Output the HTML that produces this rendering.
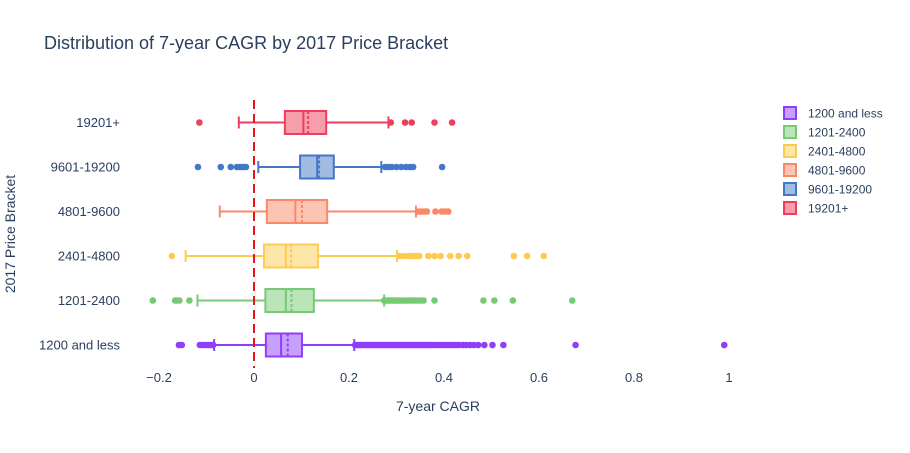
<!DOCTYPE html>
<html><head><meta charset="utf-8"><style>
body{margin:0;background:#fff;font-family:"Liberation Sans",sans-serif}
svg text{font-family:"Liberation Sans",sans-serif;fill:#2a3f5f}
</style></head><body>
<svg id="c" width="910" height="448" xmlns="http://www.w3.org/2000/svg">
<text x="44" y="49" font-size="18">Distribution of 7-year CAGR by 2017 Price Bracket</text>
<text x="438" y="411" font-size="14" text-anchor="middle">7-year CAGR</text>
<text transform="translate(15,234) rotate(-90)" font-size="14" text-anchor="middle">2017 Price Bracket</text>
<g id="plot"></g><g id="legend"></g>
</svg>
<script>
const categories=["1200 and less","1201-2400","2401-4800","4801-9600","9601-19200","19201+"];
const colors=["#8f3ff9","#77c973","#fecb52","#f98a68","#4477c6","#ef3e5c"];
const lowW=[-0.084,-0.119,-0.144,-0.072,0.009,-0.032];
const q1=[0.025,0.024,0.021,0.027,0.097,0.065];
const med=[0.057,0.067,0.067,0.087,0.133,0.104];
const mean=[0.071,0.079,0.078,0.101,0.137,0.114];
const q3=[0.101,0.126,0.135,0.154,0.168,0.152];
const highW=[0.211,0.274,0.301,0.341,0.268,0.283];
const outliers0=[-0.158,-0.152,-0.114,-0.108,-0.102,-0.096,-0.091,-0.086,0.213,0.217,0.221,0.225,0.229,0.233,0.237,0.241,0.245,0.249,0.253,0.257,0.261,0.265,0.269,0.273,0.277,0.281,0.285,0.289,0.293,0.297,0.301,0.305,0.309,0.313,0.317,0.321,0.325,0.329,0.333,0.337,0.341,0.345,0.349,0.353,0.357,0.361,0.365,0.369,0.374,0.379,0.384,0.39,0.396,0.402,0.408,0.414,0.42,0.426,0.432,0.44,0.447,0.455,0.463,0.472,0.485,0.502,0.525,0.677,0.99];
const outliers1=[-0.213,-0.166,-0.162,-0.157,-0.136,0.274,0.278,0.282,0.286,0.29,0.294,0.298,0.302,0.306,0.31,0.315,0.32,0.325,0.33,0.335,0.34,0.345,0.35,0.357,0.38,0.483,0.506,0.545,0.67];
const outliers2=[-0.173,0.306,0.315,0.325,0.33,0.335,0.342,0.348,0.367,0.38,0.393,0.413,0.431,0.449,0.547,0.575,0.61];
const outliers3=[0.345,0.35,0.355,0.36,0.364,0.382,0.395,0.402,0.409];
const outliers4=[-0.118,-0.07,-0.049,-0.036,-0.029,-0.023,-0.017,0.276,0.283,0.29,0.3,0.31,0.32,0.328,0.335,0.396];
const outliers5=[-0.115,0.288,0.318,0.332,0.38,0.417];
const outliers=[outliers0,outliers1,outliers2,outliers3,outliers4,outliers5];
const xTicks=[-0.2,0,0.2,0.4,0.6,0.8,1];
const xTickLabels=["−0.2","0","0.2","0.4","0.6","0.8","1"];
const NS="http://www.w3.org/2000/svg";
const plot=document.getElementById('plot'),leg=document.getElementById('legend');
const xs=v=>254+v*475;
const ys=i=>345-i*44.5;
function mk(tag,at,parent){const e=document.createElementNS(NS,tag);for(const k in at)e.setAttribute(k,at[k]);(parent||plot).appendChild(e);return e;}
xTicks.forEach((t,i)=>{const e=mk('text',{x:xs(t),y:382,'font-size':13,'text-anchor':'middle'});e.textContent=xTickLabels[i];

});
categories.forEach((c,i)=>{const y=ys(i),col=colors[i];
const t=mk('text',{x:120,y:y+4.5,'font-size':13,'text-anchor':'end'});t.textContent=c;


const g=mk('g',{});


mk('line',{x1:xs(lowW[i]),x2:xs(q1[i]),y1:y,y2:y,stroke:col,'stroke-width':2},g);
mk('line',{x1:xs(q3[i]),x2:xs(highW[i]),y1:y,y2:y,stroke:col,'stroke-width':2},g);
mk('line',{x1:xs(lowW[i]),x2:xs(lowW[i]),y1:y-6,y2:y+6,stroke:col,'stroke-width':2},g);
mk('line',{x1:xs(highW[i]),x2:xs(highW[i]),y1:y-6,y2:y+6,stroke:col,'stroke-width':2},g);
mk('rect',{x:xs(q1[i]),y:y-11.5,width:xs(q3[i])-xs(q1[i]),height:23,fill:col,'fill-opacity':0.5,stroke:col,'stroke-width':2},g);
mk('line',{x1:xs(med[i]),x2:xs(med[i]),y1:y-11.5,y2:y+11.5,stroke:col,'stroke-width':2},g);
mk('line',{x1:xs(mean[i]),x2:xs(mean[i]),y1:y-11.5,y2:y+11.5,stroke:col,'stroke-width':2,'stroke-dasharray':'3,2'},g);
outliers[i].forEach(v=>{const p=mk('circle',{cx:xs(v),cy:y,r:3.3,fill:col},g);

});
const ly=113+i*19;
const lg=mk('g',{},leg);


mk('rect',{x:784,y:ly-6,width:12,height:12,fill:col,'fill-opacity':0.5,stroke:col,'stroke-width':2},lg);
const lt=mk('text',{x:808,y:ly+4.5,'font-size':12},lg);lt.textContent=c;
});
const zl=mk('line',{x1:xs(0),x2:xs(0),y1:100,y2:368,stroke:'#e8141c','stroke-width':2,'stroke-dasharray':'9,5'});


</script>
</body></html>
